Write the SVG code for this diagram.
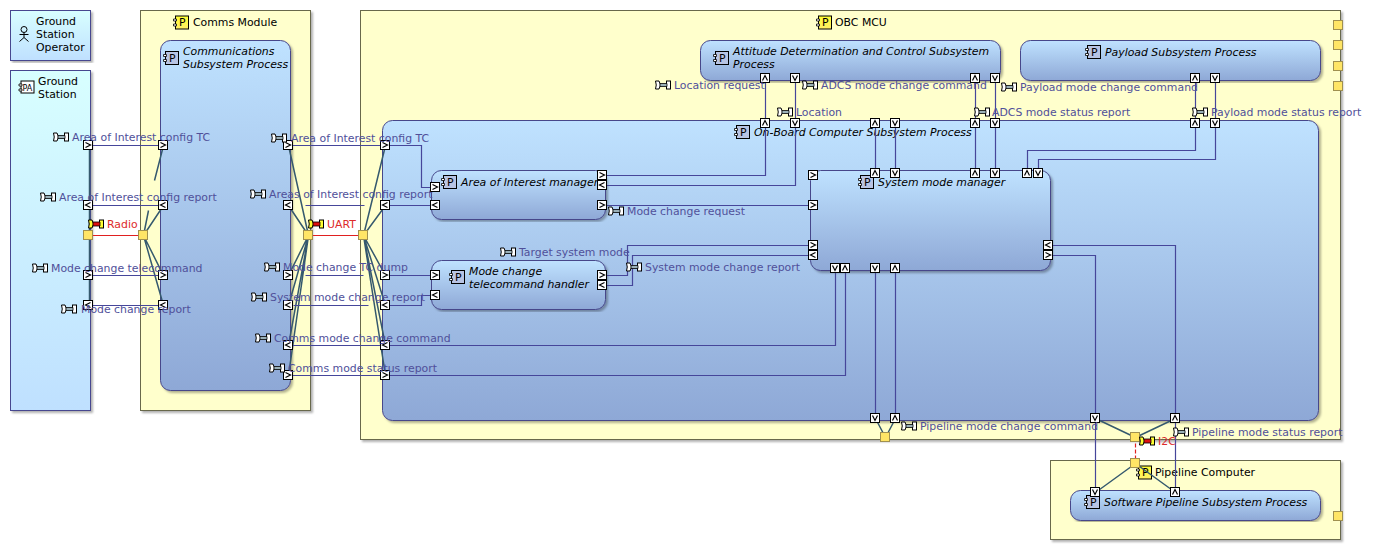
<svg xmlns="http://www.w3.org/2000/svg" width="1374" height="552" viewBox="0 0 1374 552">
<style>
text{font-family:"DejaVu Sans",sans-serif;font-size:10.88px;fill:#000}
.it{font-style:italic}
.lb{fill:#50509a}
.red{fill:#dd2a2a}
.hw{fill:#ffffcc;stroke:#68684c;stroke-width:1;filter:url(#sh)}
.pr{fill:url(#gp);stroke:#46468a;stroke-width:1;filter:url(#sh)}
.pa{fill:url(#gg);stroke:#46468f;stroke-width:1;filter:url(#sh)}
.flow{fill:none;stroke:#46469a;stroke-width:1.2}
.del{fill:none;stroke:#35596e;stroke-width:1.5}
.wire{fill:none;stroke:#e02020;stroke-width:1.2}
</style>
<defs>
<linearGradient id="gp" x1="0" y1="0" x2="0" y2="1"><stop offset="0" stop-color="#bfe2ff"/><stop offset="1" stop-color="#8ea8d6"/></linearGradient>
<linearGradient id="gg" x1="0" y1="0" x2="0" y2="1"><stop offset="0" stop-color="#d8ffff"/><stop offset="1" stop-color="#bfe0ff"/></linearGradient>
<linearGradient id="gy" x1="0" y1="0" x2="0" y2="1"><stop offset="0" stop-color="#ffff33"/><stop offset="1" stop-color="#ffee66"/></linearGradient>
<filter id="sh" x="-5%" y="-5%" width="110%" height="110%"><feDropShadow dx="2" dy="2" stdDeviation="1.2" flood-color="#000" flood-opacity="0.3"/></filter>
<g id="pR"><rect x="-4.500" y="-4.500" width="9" height="9" fill="#fff" stroke="#000"/><path d="M-2.500-2.500L2.500 0L-2.500 2.500" fill="none" stroke="#000" stroke-width="1.200"/></g>
<g id="pL"><rect x="-4.500" y="-4.500" width="9" height="9" fill="#fff" stroke="#000"/><path d="M2.500-2.500L-2.500 0L2.500 2.500" fill="none" stroke="#000" stroke-width="1.200"/></g>
<g id="pU"><rect x="-4.500" y="-4.500" width="9" height="9" fill="#fff" stroke="#000"/><path d="M-2.500 2.500L0-2.500L2.500 2.500" fill="none" stroke="#000" stroke-width="1.200"/></g>
<g id="pD"><rect x="-4.500" y="-4.500" width="9" height="9" fill="#fff" stroke="#000"/><path d="M-2.500-2.500L0 2.500L2.500-2.500" fill="none" stroke="#000" stroke-width="1.200"/></g>
<rect id="bus" x="-4.500" y="-4.500" width="9" height="9" fill="#ffe566" stroke="#a09050" stroke-width="1"/>
<g id="cP"><rect x="-5.500" y="-6.500" width="13" height="13" fill="#b8c4e4" stroke="#000"/><path d="M-7.500-3.500h3v2h-3zM-7.500 1.500h3v2h-3z" fill="#fff" stroke="#000" stroke-width=".8"/></g>
<g id="cY"><rect x="-5.500" y="-6.500" width="13" height="13" fill="url(#gy)" stroke="#000"/><path d="M-7.500-3.500h3v2h-3zM-7.500 1.500h3v2h-3z" fill="#fff" stroke="#000" stroke-width=".8"/></g>
<g id="ei"><path d="M-7.500-4h3.500q3 4 0 8h-3.500q1.500-4 0-8z" fill="#fff" stroke="#000"/><rect x="3.500" y="-4" width="4" height="8" fill="#fff" stroke="#000"/><path d="M-3-1.500h7v3h-7z" fill="#9ab0b8" stroke="#000" stroke-width=".8"/></g>
<g id="er"><path d="M-7.500-4h3.500q3 4 0 8h-3.500q1.500-4 0-8z" fill="#ffff33" stroke="#000"/><rect x="3.500" y="-4" width="4" height="8" fill="#ffff33" stroke="#000"/><path d="M-3-2h7v4h-7z" fill="#dd1111" stroke="#000" stroke-width=".8"/></g>
</defs>

<g id="ground-station-operator"><rect class="pa" x="10.500" y="10.500" width="80" height="50"/><g fill="none" stroke="#000"><circle cx="24" cy="29.500" r="3"/><path d="M24 32.500v5M19.500 34.500h9M24 37.500l-4.500 4M24 37.500l4.500 4"/></g><text x="36" y="25">Ground</text><text x="36" y="38">Station</text><text x="36" y="51">Operator</text></g>
<g id="ground-station"><rect class="pa" x="10.500" y="70.500" width="80" height="340"/><rect x="21" y="81" width="13" height="12" fill="#fff" stroke="#000"/><path d="M19 84h3v2h-3zM19 89h3v2h-3z" fill="#fff" stroke="#000" stroke-width=".8"/><text x="22.500" y="90.500" style="font-size:8px">PA</text><text x="38" y="85">Ground</text><text x="38" y="98">Station</text></g>
<g id="comms-module"><rect class="hw" x="140.500" y="10.500" width="170" height="400"/><use href="#cY" x="181" y="22.500"/><text x="179" y="26">P</text><text x="193" y="26">Comms Module</text></g>
<g id="comms-process"><rect class="pr" x="160.500" y="40.500" width="130" height="350" rx="10"/><use href="#cP" x="171" y="58"/><text x="169" y="62">P</text><text class="it" x="183" y="55">Communications</text><text class="it" x="183" y="68">Subsystem Process</text></g>
<g id="obc-mcu"><rect class="hw" x="360.500" y="10.500" width="980" height="429"/><use href="#cY" x="824" y="22.500"/><text x="822" y="26">P</text><text x="835" y="26">OBC MCU</text></g>
<g id="adcs-process"><rect class="pr" x="700.500" y="40.500" width="300" height="40" rx="10"/><use href="#cP" x="721" y="58"/><text x="719" y="62">P</text><text class="it" x="733" y="55">Attitude Determination and Control Subsystem</text><text class="it" x="733" y="68">Process</text></g>
<g id="payload-process"><rect class="pr" x="1020.500" y="40.500" width="300" height="40" rx="10"/><use href="#cP" x="1093" y="52"/><text x="1091" y="56">P</text><text class="it" x="1105" y="56">Payload Subsystem Process</text></g>
<g id="obc-process"><rect class="pr" x="382.500" y="120.500" width="936" height="300" rx="10"/><use href="#cP" x="742" y="132"/><text x="740" y="136">P</text><text class="it" x="754" y="136">On-Board Computer Subsystem Process</text></g>
<g id="aoi-manager"><rect class="pr" x="431.500" y="170.500" width="174" height="49" rx="10"/><use href="#cP" x="449" y="182"/><text x="447" y="186">P</text><text class="it" x="461" y="186">Area of Interest manager</text></g>
<g id="mode-handler"><rect class="pr" x="431.500" y="260.500" width="174" height="49" rx="10"/><use href="#cP" x="457" y="277"/><text x="455" y="281">P</text><text class="it" x="469" y="275">Mode change</text><text class="it" x="469" y="288">telecommand handler</text></g>
<g id="system-mode-manager"><rect class="pr" x="810.500" y="170.500" width="240" height="100" rx="10"/><use href="#cP" x="866" y="182"/><text x="864" y="186">P</text><text class="it" x="878" y="186">System mode manager</text></g>
<g id="pipeline-computer"><rect class="hw" x="1050.500" y="460.500" width="290" height="79"/><use href="#cY" x="1144" y="472.500"/><text x="1142" y="476">P</text><text x="1155" y="476">Pipeline Computer</text></g>
<g id="software-pipeline-process"><rect class="pr" x="1070.500" y="490.500" width="250" height="30" rx="10"/><use href="#cP" x="1092" y="502"/><text x="1090" y="506">P</text><text class="it" x="1104" y="506">Software Pipeline Subsystem Process</text></g>

<g id="connectors" transform="translate(.5 .5)">
<path class="del" d="M89 145V305"/>
<path class="del" d="M143 235L148 210M154 180L163 145M143 235L163 205M143 235L163 275M143 235L163 305"/>
<path class="del" d="M308 235L288 145M308 235L288 205M308 235L288 275M308 235L288 305M308 235L288 345M308 235L288 375M363 235L385 145M363 235L385 205M363 235L385 275M363 235L385 305M363 235L385 345M363 235L385 375"/>
<path class="del" d="M885 437L875 418M885 437L895 418M1135 437L1095 418M1135 437L1175 418M1135 463L1095 492M1135 463L1175 492"/>
<path class="wire" d="M88 235H143M308 235H363"/><path class="wire" d="M1135 437V463" stroke-dasharray="4 2"/>
<path class="flow" d="M88 145H163M88 205H163M88 275H163M88 305H163"/>
<path class="flow" d="M288 145H385M305 205H364M305 275H363M293 305H368M288 345H385M288 375H385"/>
<path class="flow" d="M385 145H421V187H435M385 205H435M385 275H435M385 305H421V295H435"/>
<path class="flow" d="M602 175H765V78M602 185H795V78M602 205H813"/>
<path class="flow" d="M602 275H627V245H813M602 285H632V255H813"/>
<path class="flow" d="M385 345H835V268M385 375H845V268"/>
<path class="flow" d="M875 268V418M895 268V418M875 123V173M895 123V173M975 78V173M995 78V173"/>
<path class="flow" d="M1195 78V150H1027V173M1215 78V159H1038V173"/>
<path class="flow" d="M1048 245H1175V492M1048 255H1095V492"/>
</g>

<g id="ports">
<use href="#bus" x="88" y="235"/><use href="#bus" x="143" y="235"/><use href="#bus" x="308" y="235"/><use href="#bus" x="363" y="235"/><use href="#bus" x="885" y="437"/><use href="#bus" x="1135" y="437"/><use href="#bus" x="1135" y="463"/>
<use href="#bus" x="1338" y="25"/><use href="#bus" x="1338" y="45"/><use href="#bus" x="1338" y="66"/><use href="#bus" x="1338" y="86"/><use href="#bus" x="1338" y="516"/>
<use href="#pR" x="88" y="145"/><use href="#pL" x="88" y="205"/><use href="#pR" x="88" y="275"/><use href="#pL" x="88" y="305"/>
<use href="#pR" x="163" y="145"/><use href="#pL" x="163" y="205"/><use href="#pR" x="163" y="275"/><use href="#pL" x="163" y="305"/>
<use href="#pR" x="288" y="145"/><use href="#pL" x="288" y="205"/><use href="#pR" x="288" y="275"/><use href="#pL" x="288" y="305"/><use href="#pL" x="288" y="345"/><use href="#pR" x="288" y="375"/>
<use href="#pR" x="385" y="145"/><use href="#pL" x="385" y="205"/><use href="#pR" x="385" y="275"/><use href="#pL" x="385" y="305"/><use href="#pL" x="385" y="345"/><use href="#pR" x="385" y="375"/>
<use href="#pR" x="435" y="187"/><use href="#pL" x="435" y="205"/><use href="#pR" x="602" y="175"/><use href="#pL" x="602" y="185"/><use href="#pR" x="602" y="205"/>
<use href="#pR" x="435" y="275"/><use href="#pL" x="435" y="295"/><use href="#pR" x="602" y="275"/><use href="#pL" x="602" y="285"/>
<use href="#pR" x="813" y="175"/><use href="#pR" x="813" y="205"/><use href="#pR" x="813" y="245"/><use href="#pL" x="813" y="255"/>
<use href="#pU" x="875" y="173"/><use href="#pD" x="895" y="173"/><use href="#pU" x="975" y="173"/><use href="#pD" x="995" y="173"/><use href="#pU" x="1027" y="173"/><use href="#pD" x="1038" y="173"/>
<use href="#pD" x="835" y="268"/><use href="#pU" x="845" y="268"/><use href="#pD" x="875" y="268"/><use href="#pU" x="895" y="268"/>
<use href="#pL" x="1048" y="245"/><use href="#pR" x="1048" y="255"/>
<use href="#pU" x="765" y="123"/><use href="#pD" x="795" y="123"/><use href="#pU" x="875" y="123"/><use href="#pD" x="895" y="123"/><use href="#pU" x="975" y="123"/><use href="#pD" x="995" y="123"/><use href="#pU" x="1195" y="123"/><use href="#pD" x="1215" y="123"/>
<use href="#pU" x="765" y="78"/><use href="#pD" x="795" y="78"/><use href="#pU" x="975" y="78"/><use href="#pD" x="995" y="78"/><use href="#pU" x="1195" y="78"/><use href="#pD" x="1215" y="78"/>
<use href="#pD" x="875" y="418"/><use href="#pU" x="895" y="418"/><use href="#pD" x="1095" y="418"/><use href="#pU" x="1175" y="418"/>
<use href="#pD" x="1095" y="492"/><use href="#pU" x="1175" y="492"/>
</g>

<g id="labels">
<use href="#ei" x="61" y="137"/><text class="lb" x="72" y="141">Area of Interest config TC</text>
<use href="#ei" x="48" y="197"/><text class="lb" x="59" y="201">Area of Interest config report</text>
<use href="#er" x="96" y="224"/><text class="red" x="107" y="228">Radio</text>
<use href="#ei" x="40" y="268"/><text class="lb" x="51" y="272">Mode change telecommand</text>
<use href="#ei" x="69" y="309"/><text class="lb" x="81" y="313">Mode change report</text>
<use href="#ei" x="279" y="138"/><text class="lb" x="291" y="142">Area of Interest config TC</text>
<use href="#ei" x="258" y="194"/><text class="lb" x="269" y="198">Areas of Interest config report</text>
<use href="#er" x="316" y="224"/><text class="red" x="327" y="228">UART</text>
<use href="#ei" x="272" y="267"/><text class="lb" x="283" y="271">Mode change TC dump</text>
<use href="#ei" x="259" y="297"/><text class="lb" x="270" y="301">System mode change report</text>
<use href="#ei" x="263" y="338"/><text class="lb" x="274" y="342">Comms mode change command</text>
<use href="#ei" x="277" y="368"/><text class="lb" x="288" y="372">Comms mode status report</text>
<use href="#ei" x="508" y="252"/><text class="lb" x="519" y="256">Target system mode</text>
<use href="#ei" x="634" y="267"/><text class="lb" x="645" y="271">System mode change report</text>
<use href="#ei" x="616" y="211"/><text class="lb" x="627" y="215">Mode change request</text>
<use href="#ei" x="663" y="85"/><text class="lb" x="674" y="89">Location request</text>
<use href="#ei" x="810" y="85"/><text class="lb" x="821" y="89">ADCS mode change command</text>
<use href="#ei" x="785" y="112"/><text class="lb" x="796" y="116">Location</text>
<use href="#ei" x="982" y="112"/><text class="lb" x="992" y="116">ADCS mode status report</text>
<use href="#ei" x="1009" y="87"/><text class="lb" x="1020" y="91">Payload mode change command</text>
<use href="#ei" x="1200" y="112"/><text class="lb" x="1211" y="116">Payload mode status report</text>
<use href="#ei" x="909" y="426"/><text class="lb" x="920" y="430">Pipeline mode change command</text>
<use href="#ei" x="1181" y="432"/><text class="lb" x="1192" y="436">Pipeline mode status report</text>
<use href="#er" x="1147" y="441"/><text class="red" x="1158" y="445">I2C</text>
</g>
</svg>
